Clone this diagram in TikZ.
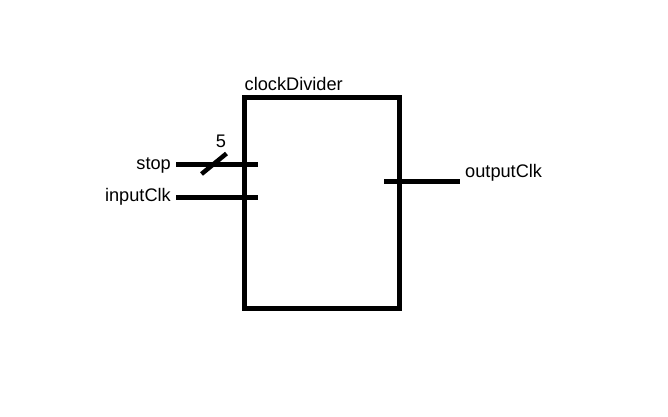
\documentclass[tikz,border=0pt]{standalone}
\usepackage{fontspec}
\setmainfont{Liberation Sans}
\begin{document}
\begin{tikzpicture}[x=1pt,y=-1pt,
  wire/.style={line width=5pt},
  lbl/.style={inner sep=0pt,font=\fontsize{18.2}{21}\selectfont}]
\useasboundingbox (0,0) rectangle (668,416);
\node[draw,line width=5pt,minimum width=155pt,minimum height=211pt,inner sep=0pt,outer sep=0pt,anchor=north west] (box) at (244,97) {};
\node[lbl,anchor=base west] (title) at (244.5,90) {clockDivider};
\coordinate (s0) at (176,164);
\coordinate (s1) at (258,164);
\coordinate (i0) at (176,197);
\coordinate (i1) at (258,197);
\coordinate (o0) at (384,181.5);
\coordinate (o1) at (460,181.5);
\draw[wire] (s0) -- (s1);
\draw[wire] (i0) -- (i1);
\draw[wire] (o0) -- (o1);
\coordinate (b0) at (201.5,174);
\coordinate (b1) at (226.5,153.5);
\draw[line width=4.5pt] (b0) -- (b1);
\node[lbl,anchor=base] (five) at (221,147) {5};
\node[lbl,anchor=base east] (stop) at (171,169.5) {stop};
\node[lbl,anchor=base east] (inclk) at (171,201.5) {inputClk};
\node[lbl,anchor=base west] (outclk) at (465,177) {outputClk};
\end{tikzpicture}
\end{document}
